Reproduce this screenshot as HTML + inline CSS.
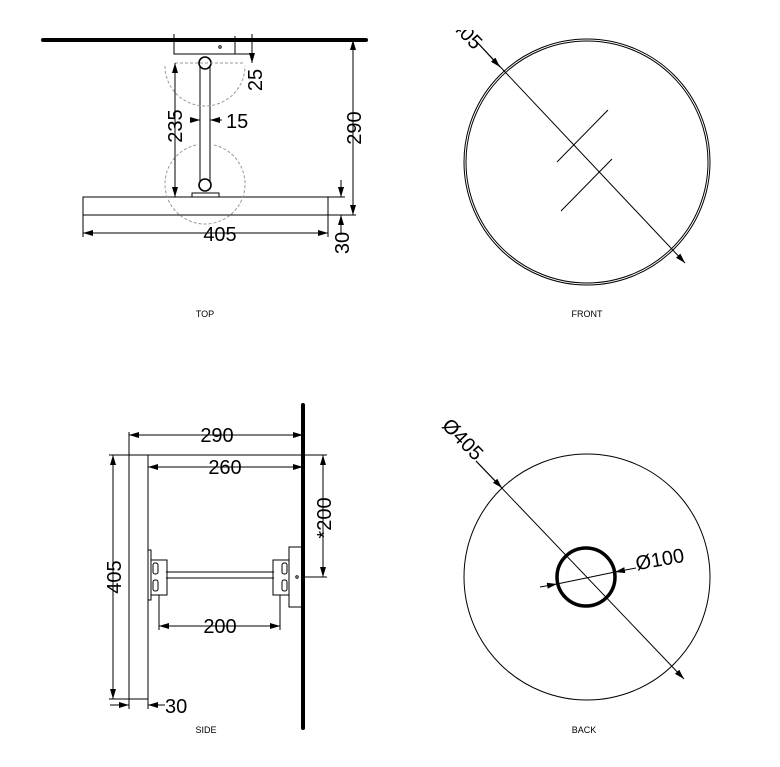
<!DOCTYPE html>
<html><head><style>
html,body{margin:0;padding:0;background:#fff;}
svg{display:block;font-family:"Liberation Sans",Arial,sans-serif;}
</style></head><body>
<svg width="780" height="767" viewBox="0 0 780 767" xmlns="http://www.w3.org/2000/svg">
<defs>
<marker id="a" viewBox="0 0 10 6" refX="10" refY="3" markerWidth="10" markerHeight="6" orient="auto-start-reverse" markerUnits="userSpaceOnUse"><path d="M0,0 L10,3 L0,6 z" fill="#000"/></marker>
<clipPath id="fc"><rect x="400" y="30" width="380" height="300"/></clipPath>
</defs>
<g fill="none" stroke="#000" stroke-width="1">
<!-- TOP -->
<line x1="43" y1="40" x2="366" y2="40" stroke-width="4" stroke-linecap="round"/>
<rect x="174" y="40" width="78" height="14"/>
<line x1="235" y1="36" x2="235" y2="54"/>
<line x1="174" y1="34" x2="174" y2="40"/>
<line x1="252" y1="34" x2="252" y2="40"/>
<circle cx="220" cy="47" r="1.2"/>
<line x1="200" y1="63" x2="200" y2="185"/>
<line x1="210" y1="63" x2="210" y2="185"/>
<circle cx="205" cy="63" r="6" stroke-width="1.6" fill="#fff"/>
<circle cx="205" cy="185" r="6" stroke-width="1.6" fill="#fff"/>
<rect x="192" y="193" width="27" height="4"/>
<rect x="83" y="197" width="245" height="18"/>
<g stroke="#999" stroke-dasharray="3,2">
<line x1="175" y1="63" x2="245" y2="63"/>
<path d="M165,66 A40,40 0 0 0 245,66"/>
<path d="M196,145 A40,40 0 1 0 214,145"/>
</g>
<line x1="83" y1="215" x2="83" y2="237"/>
<line x1="328" y1="215" x2="328" y2="237"/>
<line x1="83" y1="233" x2="328" y2="233" marker-start="url(#a)" marker-end="url(#a)"/>
<line x1="175" y1="63" x2="175" y2="197" marker-start="url(#a)" marker-end="url(#a)"/>
<line x1="252" y1="54" x2="252" y2="63" marker-end="url(#a)"/>
<line x1="190" y1="120" x2="200" y2="120" marker-end="url(#a)"/>
<line x1="222" y1="120" x2="210" y2="120" marker-end="url(#a)"/>
<line x1="353" y1="40" x2="353" y2="215" marker-start="url(#a)" marker-end="url(#a)"/>
<line x1="328" y1="215" x2="356" y2="215"/>
<line x1="341" y1="180" x2="341" y2="197" marker-end="url(#a)"/>
<line x1="341" y1="235" x2="341" y2="215" marker-end="url(#a)"/>
<line x1="328" y1="197" x2="345" y2="197"/>
<!-- FRONT -->
<circle cx="587" cy="162" r="123"/>
<circle cx="587" cy="162" r="121"/>
<line x1="475" y1="40" x2="685" y2="263" marker-end="url(#a)"/>
<line x1="475" y1="40" x2="500" y2="67" marker-end="url(#a)"/>
<line x1="557" y1="162" x2="608" y2="110"/>
<line x1="561" y1="211" x2="612" y2="159"/>
<!-- SIDE -->
<line x1="303" y1="405" x2="303" y2="728" stroke-width="4" stroke-linecap="round"/>
<rect x="129" y="455" width="19" height="244"/>
<line x1="148" y1="455" x2="303" y2="455"/>
<line x1="113" y1="455" x2="113" y2="699" marker-start="url(#a)" marker-end="url(#a)"/>
<line x1="109" y1="455" x2="129" y2="455"/>
<line x1="109" y1="699" x2="129" y2="699"/>
<line x1="129" y1="432" x2="129" y2="455"/>
<line x1="129" y1="435" x2="303" y2="435" marker-start="url(#a)" marker-end="url(#a)"/>
<line x1="148" y1="467" x2="303" y2="467" marker-start="url(#a)" marker-end="url(#a)"/>
<line x1="303" y1="455" x2="327" y2="455"/>
<line x1="303" y1="577" x2="327" y2="577"/>
<line x1="323" y1="455" x2="323" y2="577" marker-start="url(#a)" marker-end="url(#a)"/>
<rect x="289" y="547" width="14" height="60"/>
<circle cx="297" cy="577" r="1.2"/>
<rect x="148" y="550" width="3" height="50"/>
<line x1="166" y1="572" x2="274" y2="572"/>
<line x1="166" y1="578" x2="274" y2="578"/>
<rect x="151" y="560" width="16" height="35"/>
<rect x="273" y="560" width="16" height="35"/>
<rect x="153" y="563" width="5" height="11" rx="2"/>
<rect x="153" y="580" width="5" height="11" rx="2"/>
<rect x="282" y="563" width="5" height="11" rx="2"/>
<rect x="282" y="580" width="5" height="11" rx="2"/>
<line x1="159" y1="595" x2="159" y2="630"/>
<line x1="280" y1="595" x2="280" y2="630"/>
<line x1="159" y1="626" x2="280" y2="626" marker-start="url(#a)" marker-end="url(#a)"/>
<line x1="129" y1="699" x2="129" y2="709"/>
<line x1="148" y1="699" x2="148" y2="709"/>
<line x1="110" y1="705" x2="129" y2="705" marker-end="url(#a)"/>
<line x1="165" y1="705" x2="148" y2="705" marker-end="url(#a)"/>
<!-- BACK -->
<circle cx="587" cy="577" r="123"/>
<circle cx="586" cy="577" r="29" stroke-width="3.5"/>
<line x1="476" y1="461" x2="684" y2="679" marker-end="url(#a)"/>
<line x1="476" y1="461" x2="502" y2="488" marker-end="url(#a)"/>
<line x1="540" y1="587" x2="557" y2="584" marker-end="url(#a)"/>
<line x1="636" y1="568" x2="615" y2="572" marker-end="url(#a)"/>
<line x1="557" y1="584" x2="615" y2="572"/>
</g>
<g fill="#000" font-size="20">
<text x="220" y="241" text-anchor="middle">405</text>
<text transform="translate(182,126) rotate(-90)" text-anchor="middle">235</text>
<text transform="translate(262,80) rotate(-90)" text-anchor="middle">25</text>
<text x="226" y="128">15</text>
<text transform="translate(361,128) rotate(-90)" text-anchor="middle">290</text>
<text transform="translate(349,243) rotate(-90)" text-anchor="middle">30</text>
<g clip-path="url(#fc)"><text transform="translate(457,33) rotate(46)" text-anchor="middle">Ø405</text></g>
<text x="217" y="442" text-anchor="middle">290</text>
<text x="225" y="474" text-anchor="middle">260</text>
<text transform="translate(121,577) rotate(-90)" text-anchor="middle">405</text>
<text transform="translate(331,518) rotate(-90)" text-anchor="middle">*200</text>
<text x="220" y="633" text-anchor="middle">200</text>
<text x="165" y="713">30</text>
<text transform="translate(458,444) rotate(46)" text-anchor="middle">Ø405</text>
<text transform="translate(661,566) rotate(-10)" text-anchor="middle">Ø100</text>
</g>
<g fill="#000" font-size="9" text-anchor="middle">
<text x="205" y="317">TOP</text>
<text x="587" y="317">FRONT</text>
<text x="206" y="733">SIDE</text>
<text x="584" y="733">BACK</text>
</g>
</svg>
</body></html>
